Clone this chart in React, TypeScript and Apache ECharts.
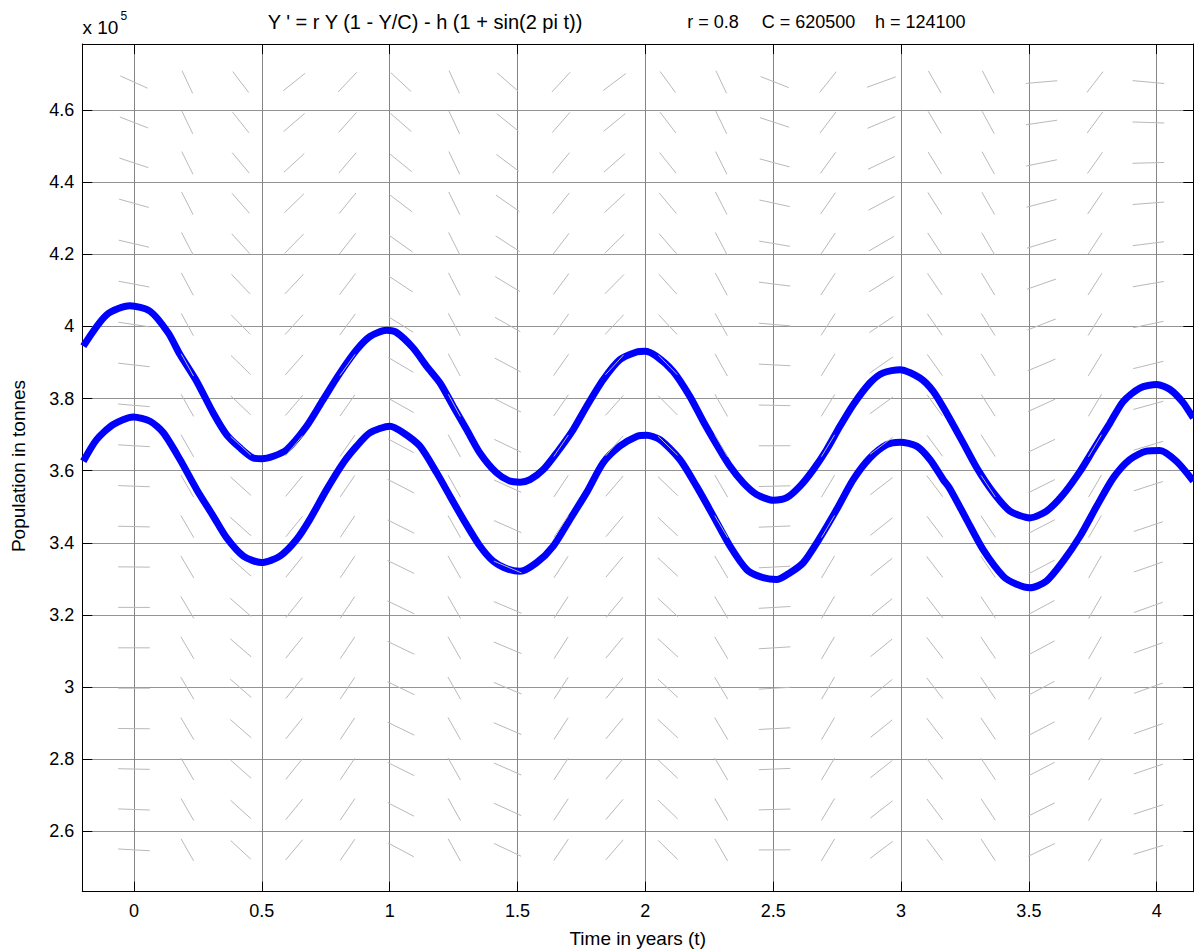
import { useEffect, useRef } from "react";
import * as echarts from "echarts";

// Model parameters: Y' = r Y (1 - Y/C) - h (1 + sin(2 pi t))
const r = 0.8;
const C = 620500;
const h = 124100;

// Visible window
const tMin = -0.202;
const tMax = 4.143;
const yMin = 243250;
const yMax = 478300;

// Direction-field sample grid (20 x 20)
const fieldT0 = 0;
const fieldTStep = 0.2088;
const fieldY0 = 254850;
const fieldYStep = 11205;
const fieldCount = 20;
const fieldSegLen = 0.0285; // segment length as a fraction of the plot box

// Upper solution curve
const upperT = [
  -0.198, -0.107, -0.016, 0.063, 0.134, 0.18, 0.245, 0.31, 0.362, 0.415, 0.467, 0.5, 0.545, 0.597,
  0.675, 0.74, 0.806, 0.871, 0.923, 0.988, 1.027, 1.092, 1.145, 1.197, 1.249, 1.301, 1.353, 1.418,
  1.47, 1.51, 1.549, 1.601, 1.653, 1.718, 1.77, 1.835, 1.901, 1.966, 1.998, 2.044, 2.109, 2.174,
  2.226, 2.279, 2.331, 2.383, 2.435, 2.5, 2.553, 2.605, 2.657, 2.709, 2.761, 2.813, 2.878, 2.93,
  2.996, 3.074, 3.126, 3.178, 3.243, 3.296, 3.361, 3.426, 3.504, 3.569, 3.634, 3.7, 3.752, 3.817,
  3.869, 3.934, 4.0, 4.052, 4.104, 4.143,
];
const upperY = [
  394500, 403200, 405700, 404200, 398200, 392200, 384800, 376000, 370000, 366300, 363500, 363300,
  364000, 365800, 372300, 379700, 387100, 393500, 397200, 398900, 398300, 394000, 388900, 384300,
  377800, 371400, 364900, 359400, 357100, 356800, 357500, 360300, 364900, 371400, 377800, 385200,
  390800, 392900, 393100, 391700, 387500, 380600, 373700, 367200, 361200, 356600, 353400, 351800,
  352500, 355700, 360300, 365800, 372300, 378300, 384300, 387100, 388000, 385700, 382000, 376000,
  367700, 360800, 353900, 348800, 346900, 348800, 353400, 359800, 365800, 373200, 379200, 382900,
  383900, 382500, 378800, 374600,
];

// Lower solution curve
const lowerT = [
  -0.198, -0.146, -0.081, -0.003, 0.063, 0.115, 0.18, 0.245, 0.31, 0.362, 0.428, 0.499, 0.571,
  0.636, 0.688, 0.754, 0.819, 0.871, 0.923, 1.001, 1.053, 1.118, 1.184, 1.236, 1.288, 1.353, 1.405,
  1.458, 1.51, 1.575, 1.64, 1.705, 1.77, 1.835, 1.901, 1.966, 2.005, 2.057, 2.135, 2.2, 2.266,
  2.331, 2.396, 2.448, 2.513, 2.566, 2.618, 2.683, 2.748, 2.813, 2.878, 2.944, 2.996, 3.061, 3.113,
  3.165, 3.191, 3.256, 3.321, 3.4, 3.452, 3.504, 3.569, 3.634, 3.7, 3.765, 3.83, 3.895, 3.96, 4.012,
  4.077, 4.143,
];
const lowerY = [
  362600, 368600, 372800, 374900, 373700, 370500, 363100, 354800, 347400, 341400, 336300, 334500,
  336300, 340900, 346500, 354800, 362200, 366800, 370500, 372300, 370500, 366800, 359400, 352900,
  346500, 339100, 334900, 332800, 332100, 334500, 339100, 346500, 353900, 362200, 366800, 369500,
  369800, 368600, 363100, 355700, 347400, 339100, 332600, 330600, 329800, 331700, 334500, 341400,
  349200, 357500, 363500, 367200, 367900, 366800, 363100, 357500, 355000, 346500, 338100, 330700,
  328500, 327500, 329400, 334900, 341800, 350100, 358000, 363100, 365400, 365600, 362600, 357100,
];

const titleText = "Y ' = r Y (1 - Y/C) - h (1 + sin(2 pi t))";
const paramTexts = [`r = ${r}`, `C = ${C}`, `h = ${h}`];
const paramX = [687.3, 761.7, 875];
const xName = "Time in years (t)";
const yName = "Population in tonnes";

const FONT = "'Liberation Sans', Arial, Helvetica, sans-serif";

function slope(t: number, y: number) {
  return r * y * (1 - y / C) - h * (1 + Math.sin(2 * Math.PI * t));
}

export default function App() {
  const ref = useRef<HTMLDivElement>(null);

  useEffect(() => {
    if (!ref.current) return;
    const chart = echarts.init(ref.current, null, { renderer: "svg" });

    const field: number[][] = [];
    for (let i = 0; i < fieldCount; i++) {
      for (let j = 0; j < fieldCount; j++) {
        const t = fieldT0 + i * fieldTStep;
        const y = fieldY0 + j * fieldYStep;
        field.push([t, y, slope(t, y)]);
      }
    }

    const tickLabel = {
      color: "#000",
      fontSize: 18,
      fontFamily: FONT,
      showMinLabel: false,
      showMaxLabel: false,
    };

    const frameLine = { show: true, onZero: false, lineStyle: { color: "#000", width: 1 } };
    const innerTick = { show: true, inside: true, length: 10, lineStyle: { color: "#000", width: 1 } };

    chart.setOption({
      animation: false,
      backgroundColor: "#fff",
      grid: { left: 82.3, top: 44, right: 0.7, bottom: 59.3, containLabel: false },
      xAxis: [
        {
          type: "value",
          min: tMin,
          max: tMax,
          splitNumber: 9,
          position: "bottom",
          axisLine: frameLine,
          axisTick: innerTick,
          axisLabel: {
            ...tickLabel,
            margin: 10,
            formatter: (v: number) => String(+v.toFixed(1)),
          },
          splitLine: { show: true, lineStyle: { color: "#858585", width: 1 } },
        },
        {
          type: "value",
          min: tMin,
          max: tMax,
          splitNumber: 9,
          position: "top",
          axisLine: frameLine,
          axisTick: innerTick,
          axisLabel: { show: false },
          splitLine: { show: false },
        },
      ],
      yAxis: [
        {
          type: "value",
          min: yMin,
          max: yMax,
          splitNumber: 12,
          position: "left",
          axisLine: frameLine,
          axisTick: innerTick,
          axisLabel: {
            ...tickLabel,
            margin: 8,
            formatter: (v: number) => String(+(v / 1e5).toFixed(1)),
          },
          splitLine: { show: true, lineStyle: { color: "#949494", width: 1 } },
        },
        {
          type: "value",
          min: yMin,
          max: yMax,
          splitNumber: 12,
          position: "right",
          axisLine: frameLine,
          axisTick: innerTick,
          axisLabel: { show: false },
          splitLine: { show: false },
        },
      ],
      series: [
        {
          type: "line",
          xAxisIndex: 0,
          yAxisIndex: 0,
          data: upperT.map((t, i) => [t, upperY[i]]),
          smooth: 0.25,
          symbol: "none",
          lineStyle: { color: "#0000ff", width: 7 },
          z: 3,
        },
        {
          type: "line",
          xAxisIndex: 0,
          yAxisIndex: 0,
          data: lowerT.map((t, i) => [t, lowerY[i]]),
          smooth: 0.25,
          symbol: "none",
          lineStyle: { color: "#0000ff", width: 7 },
          z: 3,
        },
        {
          type: "custom",
          xAxisIndex: 0,
          yAxisIndex: 0,
          data: field,
          encode: { x: 0, y: 1 },
          clip: true,
          z: 4,
          silent: true,
          renderItem: (params: any, api: any) => {
            const t = api.value(0);
            const y = api.value(1);
            const s = api.value(2);
            const cs = params.coordSys;
            const u = 1 / (tMax - tMin);
            const v = s / (yMax - yMin);
            const n = Math.hypot(u, v);
            const half = fieldSegLen / 2;
            const dx = (u / n) * half * cs.width;
            const dy = -(v / n) * half * cs.height;
            const c = api.coord([t, y]);
            return {
              type: "line",
              shape: { x1: c[0] - dx, y1: c[1] - dy, x2: c[0] + dx, y2: c[1] + dy },
              style: { stroke: "#b9b9b9", lineWidth: 1 },
            };
          },
        },
      ],
      graphic: [
        {
          type: "text",
          x: 82.5,
          y: 27.5,
          style: {
            text: "x 10",
            fontSize: 19,
            fontFamily: FONT,
            fill: "#000",
            align: "left",
            verticalAlign: "middle",
          },
        },
        {
          type: "text",
          x: 120.5,
          y: 15.5,
          style: {
            text: "5",
            fontSize: 12,
            fontFamily: FONT,
            fill: "#000",
            align: "left",
            verticalAlign: "middle",
          },
        },
        {
          type: "text",
          x: 425,
          y: 21.5,
          style: {
            text: titleText,
            fontSize: 20,
            fontFamily: FONT,
            fill: "#000",
            align: "center",
            verticalAlign: "middle",
          },
        },
        ...paramTexts.map((txt, i) => ({
          type: "text",
          x: paramX[i],
          y: 21.5,
          style: {
            text: txt,
            fontSize: 18,
            fontFamily: FONT,
            fill: "#000",
            align: "left",
            verticalAlign: "middle",
          },
        })),
        {
          type: "text",
          x: 637.7,
          y: 938,
          style: {
            text: xName,
            fontSize: 19,
            fontFamily: FONT,
            fill: "#000",
            align: "center",
            verticalAlign: "middle",
          },
        },
        {
          type: "text",
          x: 18,
          y: 466,
          rotation: Math.PI / 2,
          style: {
            text: yName,
            fontSize: 19,
            fontFamily: FONT,
            fill: "#000",
            align: "center",
            verticalAlign: "middle",
          },
        },
      ],
    });

    return () => chart.dispose();
  }, []);

  return (
    <div
      ref={ref}
      style={{ position: "absolute", left: 0, top: 0, width: 1194, height: 951, background: "#fff" }}
    />
  );
}
